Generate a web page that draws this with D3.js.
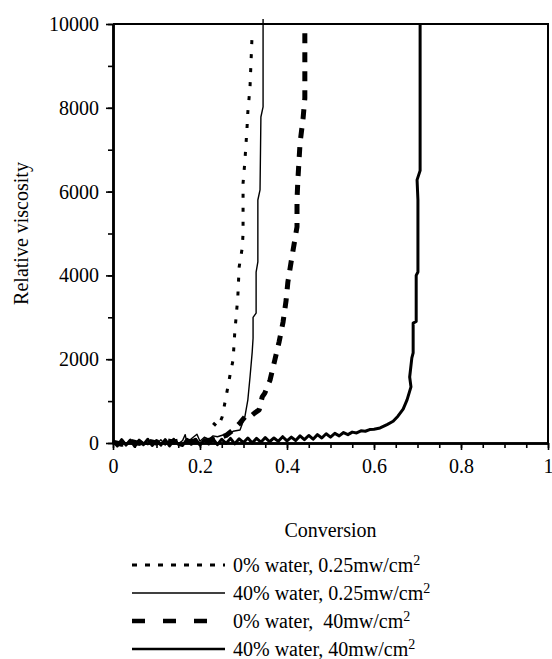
<!DOCTYPE html>
<html>
<head>
<meta charset="utf-8">
<script src="https://cdn.jsdelivr.net/npm/d3@7"></script>
<style>
  body { margin: 0; background: #fff; }
</style>
</head>
<body>
<div id="chart"></div>
<script>
// 0% water, 0.25mw/cm2 (dotted)
var dotConv = [0.230, 0.241, 0.251, 0.262, 0.269, 0.276, 0.280, 0.283, 0.287, 0.290, 0.297, 0.299, 0.299, 0.303, 0.308, 0.310, 0.315, 0.320];
var dotVisc = [480, 380, 620, 1220, 1620, 1980, 2650, 3000, 3500, 4200, 4650, 5000, 6200, 6700, 7500, 7900, 8500, 9800];

// 40% water, 0.25mw/cm2 (thin solid)
var thinConv = [0, 0.01, 0.02, 0.03, 0.04, 0.05, 0.06, 0.07, 0.08, 0.09, 0.10, 0.11, 0.12, 0.13, 0.14, 0.15, 0.16, 0.166, 0.17, 0.18, 0.193, 0.20, 0.21, 0.22, 0.23, 0.24, 0.253,
  0.269, 0.276, 0.292, 0.303, 0.310, 0.315, 0.320, 0.322, 0.322, 0.329, 0.329, 0.333, 0.333, 0.338, 0.340, 0.345, 0.345];
var thinVisc = [40, -50, 70, -20, 60, -60, 90, 10, -40, 50, -30, 80, -50, 40, 110, -20, 60, 200, -10, 100, 210, 40, 140, 80, 170, 150, 190,
  240, 280, 310, 620, 1030, 1575, 2170, 2500, 3000, 3100, 4080, 4320, 5800, 6040, 7780, 8020, 10120];

// 0% water, 40mw/cm2 (thick dashed)
var dashConv = [0, 0.02, 0.04, 0.06, 0.08, 0.10, 0.12, 0.14, 0.16, 0.18, 0.20, 0.22, 0.24, 0.26, 0.276, 0.292, 0.305, 0.315, 0.326, 0.336, 0.343, 0.349, 0.361, 0.372, 0.382,
  0.391, 0.398, 0.402, 0.411, 0.418, 0.423, 0.423, 0.425, 0.430, 0.437, 0.441, 0.441];
var dashVisc = [20, -30, 40, -10, 50, 0, 60, 20, 70, 30, 90, 60, 110, 180, 310, 480, 640, 620, 720, 790, 1100, 1190, 1500, 1980, 2420,
  2890, 3410, 3840, 4420, 4850, 5160, 5800, 6280, 7160, 7750, 8230, 9900];

// 40% water, 40mw/cm2 (thick solid)
var thickConv = [0, 0.01, 0.02, 0.03, 0.04, 0.05, 0.06, 0.07, 0.08, 0.09, 0.10, 0.11, 0.12, 0.13, 0.14, 0.15, 0.16, 0.17, 0.18, 0.19,
  0.20, 0.21, 0.22, 0.23, 0.24, 0.25, 0.26, 0.27, 0.28, 0.29, 0.30, 0.31, 0.32, 0.33, 0.34, 0.35, 0.36, 0.37, 0.38, 0.39,
  0.40, 0.41, 0.42, 0.43, 0.44, 0.45, 0.46, 0.47, 0.48, 0.49, 0.50, 0.51, 0.52, 0.53, 0.54, 0.55, 0.56, 0.57, 0.58, 0.59,
  0.60, 0.614, 0.63, 0.644, 0.655, 0.667, 0.676, 0.685, 0.682, 0.687, 0.690, 0.690, 0.697, 0.697, 0.701, 0.701, 0.699, 0.706, 0.706];
var thickVisc = [40, -70, 80, -50, 70, -80, 60, -40, 90, -60, 60, -50, 80, -70, 70, -30, -60, 90, -30, 90,
  -50, 80, -20, 100, -40, 90, -10, 110, -20, 100, 10, 120, 0, 110, 20, 130, 30, 120, 40, 150,
  50, 140, 60, 170, 80, 180, 90, 200, 120, 220, 140, 230, 170, 250, 200, 260, 240, 290, 280, 320,
  330, 360, 440, 520, 640, 810, 1030, 1340, 1575, 2030, 2150, 2860, 2900, 4000, 4080, 5800, 6280, 6500, 10000];

var seriesNames = ["0% water, 0.25mw/cm", "40% water, 0.25mw/cm", "0% water,  40mw/cm", "40% water, 40mw/cm"];
var xTicks = [0, 0.2, 0.4, 0.6, 0.8, 1];
var xMinorTicks = d3.range(0, 1.001, 0.05);
var yTicks = [0, 2000, 4000, 6000, 8000, 10000];
var yMinorTicks = d3.range(0, 10001, 1000);

var fontFamily = "'Liberation Serif'";

var svgW = 552, svgH = 659;
var margin = {top: 24, right: 4, bottom: 216, left: 113},
    width = svgW - margin.left - margin.right,
    height = svgH - margin.top - margin.bottom;

var x = d3.scaleLinear().domain([0, 1]).range([0, width]);
var y = d3.scaleLinear().domain([0, 10000]).range([height, 0]);

var svg = d3.select("#chart").append("svg")
    .attr("width", svgW)
    .attr("height", svgH)
  .append("g")
    .attr("transform", "translate(" + margin.left + "," + margin.top + ")");

// top and right frame lines
svg.append("path")
  .attr("d", "M0,0H" + width + "V" + height)
  .attr("fill", "none")
  .attr("stroke", "#000")
  .attr("stroke-width", 2);

// minor ticks
svg.append("g")
  .attr("transform", "translate(0," + height + ")")
  .call(d3.axisBottom(x).tickValues(xMinorTicks).tickSize(5).tickSizeOuter(0).tickFormat(""));
svg.append("g")
  .call(d3.axisLeft(y).tickValues(yMinorTicks).tickSize(5).tickSizeOuter(0).tickFormat(""));

// main axes
svg.append("g")
  .attr("class", "xAxis")
  .attr("transform", "translate(0," + height + ")")
  .call(d3.axisBottom(x).tickValues(xTicks).tickSize(7).tickSizeOuter(0).tickPadding(9)
    .tickFormat(d3.format("~g")));
svg.append("g")
  .attr("class", "yAxis")
  .call(d3.axisLeft(y).tickValues(yTicks).tickSize(7).tickSizeOuter(0).tickPadding(7)
    .tickFormat(d3.format("d")));

svg.selectAll(".tick line").attr("stroke", "#000").attr("stroke-width", 1.6);
svg.selectAll(".domain").attr("stroke", "#000").attr("stroke-width", 2.5);
svg.selectAll(".tick text")
  .attr("fill", "#000")
  .style("font-family", fontFamily)
  .style("font-size", "20px");

// axis titles
svg.append("text")
  .attr("x", width / 2)
  .attr("y", height + 94)
  .attr("text-anchor", "middle")
  .style("font-family", fontFamily)
  .style("font-size", "20px")
  .text("Conversion");

svg.append("text")
  .attr("transform", "translate(" + (28 - margin.left) + "," + (height / 2) + ") rotate(-90)")
  .attr("text-anchor", "middle")
  .style("font-family", fontFamily)
  .style("font-size", "20px")
  .text("Relative viscosity");

// curves
var line = d3.line()
  .x((d) => x(d[0]))
  .y((d) => y(d[1]));

var styles = [
  {width: 3, dash: "4,10", legendDash: "5,8"},
  {width: 1.4, dash: null, legendDash: null},
  {width: 5, dash: "10,9", legendDash: "13,18"},
  {width: 3, dash: null, legendDash: null}
];

var curves = [
  d3.zip(dotConv, dotVisc),
  d3.zip(thinConv, thinVisc),
  d3.zip(dashConv, dashVisc),
  d3.zip(thickConv, thickVisc)
];

svg.selectAll(".curve")
  .data(curves)
  .enter().append("path")
  .attr("class", "curve")
  .attr("d", line)
  .attr("fill", "none")
  .attr("stroke", "#000")
  .attr("stroke-linejoin", "round")
  .attr("stroke-width", (d, i) => styles[i].width)
  .attr("stroke-dasharray", (d, i) => styles[i].dash);

// legend
var legend = svg.append("g")
  .attr("transform", "translate(" + (132 - margin.left) + "," + (565 - margin.top) + ")");

var rows = legend.selectAll(".row")
  .data(seriesNames)
  .enter().append("g")
  .attr("class", "row")
  .attr("transform", (d, i) => "translate(0," + (i * 28) + ")");

rows.append("line")
  .attr("x1", 0)
  .attr("x2", 93)
  .attr("stroke", "#000")
  .attr("stroke-width", (d, i) => i === 2 ? 4.5 : (i === 3 ? 2.6 : styles[i].width))
  .attr("stroke-dasharray", (d, i) => styles[i].legendDash);

var labels = rows.append("text")
  .attr("x", 101)
  .attr("y", 7)
  .style("font-family", fontFamily)
  .style("font-size", "20px")
  .style("white-space", "pre");
labels.append("tspan").text((d) => d);
labels.append("tspan")
  .attr("dy", -7)
  .style("font-size", "14px")
  .text("2");
</script>
</body>
</html>
